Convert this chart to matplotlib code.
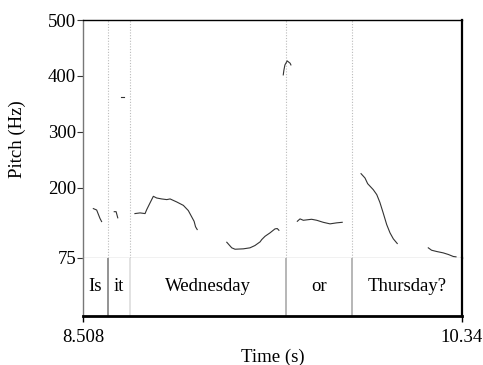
import matplotlib
matplotlib.use("Agg")
import matplotlib.pyplot as plt

plt.rcParams['font.family'] = ['Liberation Serif', 'DejaVu Serif']

# Time range (s) and pitch range (Hz)
t_start, t_end = 8.508, 10.34
f_min, f_max = 75, 500
y_ticks = [75, 200, 300, 400, 500]

# Pitch contour segments: (times, Hz)
seg1_t = [8.558, 8.574, 8.590, 8.598]
seg1_f = [162.5, 160.0, 145.0, 139.3]
seg2_t = [8.659, 8.668, 8.676]
seg2_f = [157.0, 157.0, 146.0]
seg3_t = [8.694, 8.704]
seg3_f = [362.0, 362.0]
seg4_t = [8.759, 8.784, 8.808, 8.816, 8.832, 8.848, 8.864, 8.888, 8.913, 8.929,
          8.961, 8.993, 9.017, 9.033, 9.045, 9.052, 9.060]
seg4_f = [153.6, 154.8, 153.6, 160.7, 172.7, 184.5, 181.5, 179.8, 178.6, 179.8,
          174.4, 168.3, 159.0, 148.0, 139.8, 130.0, 125.0]
seg5_t = [9.203, 9.227, 9.243, 9.283, 9.315, 9.339, 9.364, 9.372, 9.388, 9.412,
          9.436, 9.447, 9.455]
seg5_f = [102.3, 92.3, 89.8, 90.5, 92.3, 96.4, 103.0, 107.1, 113.0, 119.1,
          126.2, 126.8, 123.7]
seg6_t = [9.476, 9.479, 9.484, 9.495, 9.509, 9.513]
seg6_f = [401.8, 410.0, 419.6, 426.8, 422.7, 419.6]
seg7_t = [9.544, 9.557, 9.573, 9.613, 9.638, 9.669, 9.702, 9.734, 9.761]
seg7_f = [139.8, 144.1, 141.6, 143.4, 141.6, 138.0, 135.2, 137.0, 138.0]
seg8_t = [9.852, 9.871, 9.884, 9.911, 9.928, 9.943, 9.959, 9.976, 9.992,
          10.008, 10.027]
seg8_f = [225.0, 217.3, 207.1, 196.4, 187.5, 173.7, 154.8, 133.9, 119.1,
          108.4, 100.0]
seg9_t = [10.177, 10.193, 10.218, 10.249, 10.274, 10.298, 10.311]
seg9_f = [92.3, 88.0, 85.7, 83.3, 80.4, 76.8, 76.2]

segments = [(seg1_t, seg1_f), (seg2_t, seg2_f), (seg3_t, seg3_f),
            (seg4_t, seg4_f), (seg5_t, seg5_f), (seg6_t, seg6_f),
            (seg7_t, seg7_f), (seg8_t, seg8_f), (seg9_t, seg9_f)]

# TextGrid intervals
boundaries = [8.629, 8.733, 9.487, 9.810]
boundary_colors = ['#808080', '#dddddd', '#aaaaaa', '#aaaaaa']
words = ['Is', 'it', 'Wednesday', 'or', 'Thursday?']
edges = [t_start] + boundaries + [t_end]

W, H = 483, 365
fig = plt.figure(figsize=(W / 100, H / 100), dpi=100)

L, R = 83 / W, 462 / W
top, mid, bot = 1 - 20 / H, 1 - 257.5 / H, 1 - 316 / H

ax = fig.add_axes([L, mid, R - L, top - mid])
tg = fig.add_axes([L, bot, R - L, mid - bot])

FS = 13.5

# Pitch panel
for b in boundaries:
    ax.axvline(b, color='#bbbbbb', lw=0.8, ls=(0, (1, 1.5)), zorder=1)
for t, f in segments:
    ax.plot(t, f, color='#333333', lw=0.8, zorder=3)
ax.set_xlim(t_start, t_end)
ax.set_ylim(f_min, f_max)
ax.set_yticks(y_ticks)
ax.set_yticklabels([str(v) for v in y_ticks], fontsize=FS)
ax.tick_params(axis='y', direction='out', length=4, width=0.8, pad=1, color='#333333')
ax.set_xticks([])
ax.spines['top'].set_color('black')
ax.spines['top'].set_linewidth(1.0)
ax.spines['left'].set_color('#777777')
ax.spines['left'].set_linewidth(1.0)
ax.spines['right'].set_color('black')
ax.spines['right'].set_linewidth(1.6)
ax.spines['bottom'].set_color('#bbbbbb')
ax.spines['bottom'].set_linewidth(1.0)
ax.set_ylabel('Pitch (Hz)', fontsize=FS, labelpad=16)

# TextGrid panel
tg.set_xlim(t_start, t_end)
tg.set_ylim(0, 1)
for b, c in zip(boundaries, boundary_colors):
    tg.axvline(b, color=c, lw=1.2)
for w, a, b in zip(words, edges[:-1], edges[1:]):
    tg.text((a + b) / 2, 0.5, w, ha='center', va='center', fontsize=FS)
tg.set_yticks([])
tg.set_xticks([t_start, t_end])
tg.set_xticklabels(['8.508', '10.34'], fontsize=FS)
tg.tick_params(axis='x', direction='out', length=4, width=1.0, pad=5)
tg.spines['top'].set_visible(False)
tg.spines['left'].set_color('#777777')
tg.spines['left'].set_linewidth(1.0)
tg.spines['right'].set_color('black')
tg.spines['right'].set_linewidth(1.6)
tg.spines['bottom'].set_color('black')
tg.spines['bottom'].set_linewidth(2.0)
tg.set_xlabel('Time (s)', fontsize=FS, labelpad=2)

fig.savefig('out.png', dpi=100)
